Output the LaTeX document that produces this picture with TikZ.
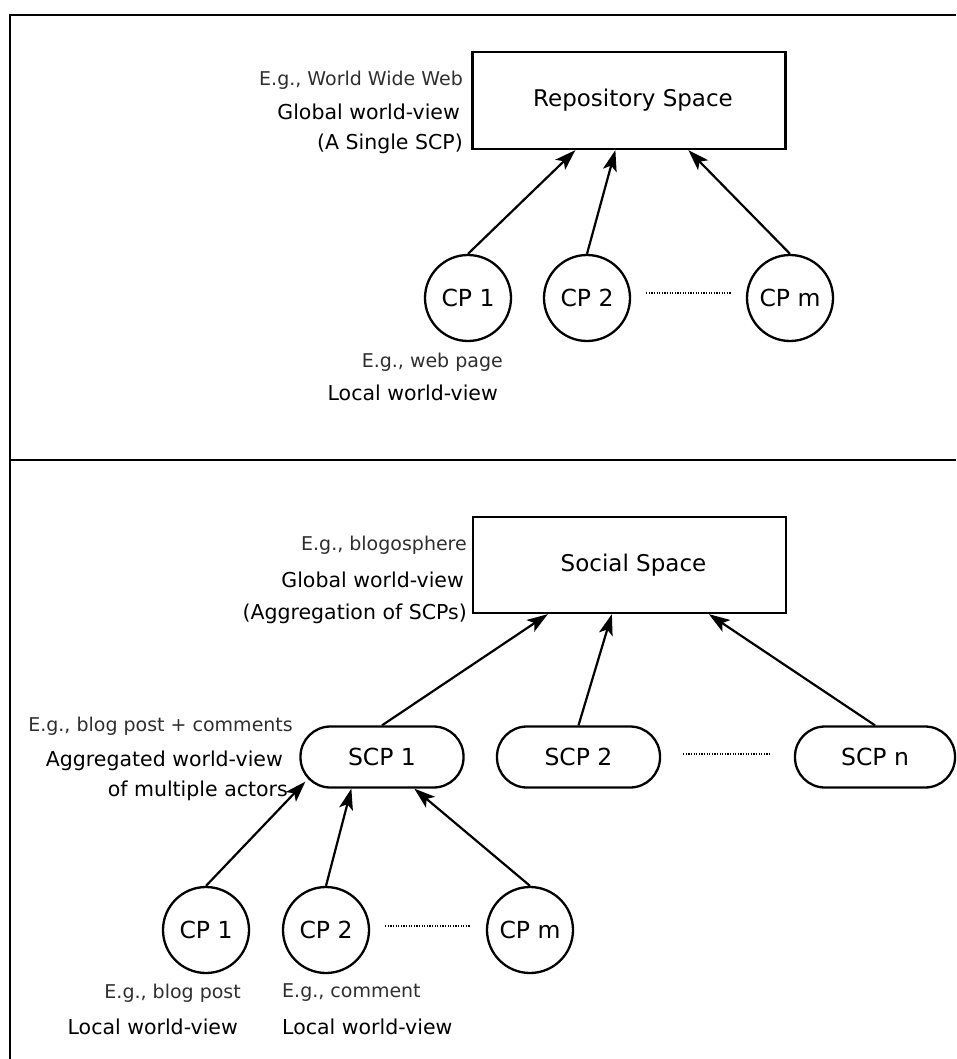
\documentclass[tikz,border=0pt]{standalone}
\usepackage{fontspec}
\setmainfont{DejaVu Sans}
\usetikzlibrary{arrows.meta,calc}
\begin{document}
\begin{tikzpicture}[x=1pt,y=-1pt,
  frame/.style={line width=2.8pt},
  spacebox/.style={draw,line width=2.3pt,minimum width=313pt,minimum height=97pt,inner sep=0pt,font=\fontsize{23}{27}\selectfont},
  cpnode/.style={draw,circle,line width=2.3pt,minimum size=86pt,inner sep=0pt,font=\fontsize{23.5}{28}\selectfont},
  scpnode/.style={draw,rounded corners=30pt,line width=2.3pt,minimum width=163pt,minimum height=61pt,inner sep=0pt,font=\fontsize{23.5}{28}\selectfont},
  link/.style={line width=2.2pt,-{Stealth[length=21pt,width=14pt,inset=5pt]}},
  etc/.style={line width=1.8pt,dash pattern=on 1.3pt off 1.3pt},
  note/.style={inner sep=0pt,font=\fontsize{19}{23}\selectfont,text=black!82},
  tag/.style={inner sep=0pt,font=\fontsize{20.5}{24}\selectfont},
]
\useasboundingbox (0,0) rectangle (956,1059);

% panel frame
\draw[frame] (956,15) -- (10,15) -- (10,1059);
\draw[frame] (10,460) -- (956,460);

% ---------- upper panel: repository space ----------
\node[spacebox] (repo) at (629,100.5) {\hspace{8pt}Repository Space};
\node[note,anchor=east] (repoeg) at (463,80) {E.g., World Wide Web};
\node[tag,anchor=east] (repogv) at (460,112) {Global world-view};
\node[tag,anchor=east] (reposcp) at (463,144) {(A Single SCP)};

\node[cpnode] (ua) at (468,298) {CP 1};
\node[cpnode] (ub) at (587,298) {CP 2};
\node[cpnode] (um) at (790,298) {CP m};

\draw[etc,shorten <=15pt,shorten >=15pt] ([yshift=5pt]ub.east) -- ([yshift=5pt]um.west);

\draw[link] (ua.north) -- ([xshift=104pt]repo.south west);
\draw[link] (ub.north) -- ([xshift=144pt]repo.south west);
\draw[link] (um.north) -- ([xshift=217pt]repo.south west);

\node[note,anchor=east] (uaeg) at (503,362) {E.g., web page};
\node[tag,anchor=east] (ualw) at (498,393) {Local world-view};

% ---------- lower panel: social space ----------
\node[spacebox,minimum height=96pt] (social) at (629.5,565) {\hspace{8pt}Social Space};
\node[note,anchor=east] (soceg) at (467,545) {E.g., blogosphere};
\node[tag,anchor=east] (socgv) at (464,580) {Global world-view};
\node[tag,anchor=east] (socagg) at (467,614) {(Aggregation of SCPs)};

\node[scpnode] (sa) at (382,757) {SCP 1};
\node[scpnode] (sb) at (578.5,757) {SCP 2};
\node[scpnode,minimum width=160pt] (sn) at (875,757) {SCP n};

\draw[etc,shorten <=22pt,shorten >=23pt] ([yshift=3pt]sb.east) -- ([yshift=3pt]sn.west);

\draw[link] (sa.north) -- ([xshift=76pt]social.south west);
\draw[link] (sb.north) -- ([xshift=140pt]social.south west);
\draw[link] (sn.north) -- ([xshift=237pt]social.south west);

\node[note,anchor=east] (saeg) at (293,726) {E.g., blog post + comments};
\node[tag,anchor=east] (saagg) at (283,761) {Aggregated world-view};
\node[tag,anchor=east] (saact) at (288,791) {of multiple actors};

\node[cpnode] (la) at (206,930) {CP 1};
\node[cpnode] (lb) at (326,930) {CP 2};
\node[cpnode] (lm) at (530,930) {CP m};

\draw[etc,shorten <=15pt,shorten >=15pt] ([yshift=4pt]lb.east) -- ([yshift=4pt]lm.west);

\draw[link] (la.north) -- ([xshift=6pt,yshift=7pt]sa.south west);
\draw[link] (lb.north) -- ([xshift=52pt]sa.south west);
\draw[link] (lm.north) -- ([xshift=115pt]sa.south west);

\node[note,anchor=east] (laeg) at (241,993) {E.g., blog post};
\node[tag,anchor=east] (lalw) at (238,1027) {Local world-view};
\node[note,anchor=west] (lbeg) at (282,993) {E.g., comment};
\node[tag,anchor=west] (lblw) at (282,1027) {Local world-view};

\end{tikzpicture}
\end{document}
